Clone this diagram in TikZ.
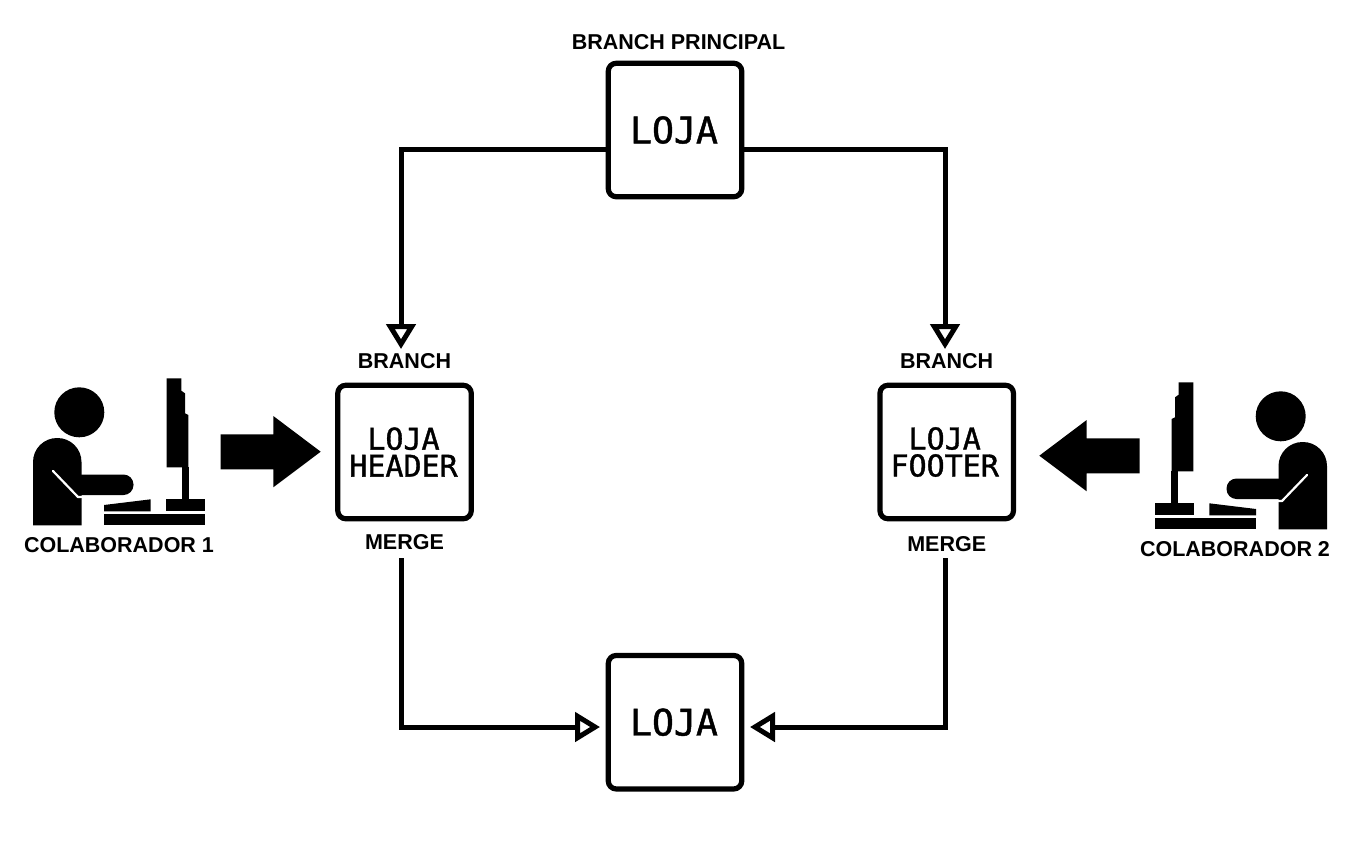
\documentclass[tikz,border=0pt]{standalone}
\usepackage{fontspec}
\setmainfont{Liberation Sans}
\newfontfamily\fontemono[FakeBold=1.2]{DejaVu Sans Mono}
\usetikzlibrary{arrows.meta,positioning}
\newcommand{\rotulofonte}{\bfseries\fontsize{21.5}{21.5}\selectfont}
\newcommand{\lojafonte}{\fontemono\fontsize{36.5}{36}\selectfont}
\newcommand{\ramofonte}{\fontemono\fontsize{30}{27}\selectfont}

\tikzset{
 colaborador/.pic={
  \fill (79.3,412.3) circle (25);
  \fill[rounded corners=24pt] (33,525.3) -- (33,438) -- (81.5,438) [sharp corners] -- (81.5,525.3) -- cycle;
  \fill[rounded corners=10pt] (70,474.5) rectangle (133.5,495);
  \draw[white,line width=2.2pt,line cap=round,line join=round] (53,471) -- (78,497) -- (81.5,497);
  \fill (104,505) -- (150.7,499.3) -- (150.7,511.3) -- (104,511.3) -- cycle;
  \fill (104,514) rectangle (205,525.3);
  \fill (166,499.3) rectangle (205,511.3);
  \fill (181.7,467) rectangle (189,499.5);
  \fill (166.7,378.3) -- (181.3,378.3) -- (181.3,390.7) -- (185,393.3) -- (185,413.3) -- (188.3,415) -- (188.3,467.3) -- (166.7,467.3) -- cycle;
  \fill (220.5,434.3) -- (273.3,434.3) -- (273.3,416) -- (320.7,451.7) -- (273.3,487.3) -- (273.3,469.3) -- (220.5,469.3) -- cycle;
 }
}

\begin{document}
\begin{tikzpicture}[
 x=1pt,y=-1pt,
 caixa/.style={draw,line width=5.2pt,rounded corners=8pt,minimum size=133.5pt,inner sep=0pt,align=center},
 rotulo/.style={font=\rotulofonte,inner sep=0pt,text height=16pt,text depth=0pt},
 conector/.style={line width=5pt,-{Triangle[open,length=25pt,width=29pt]}}
]
\useasboundingbox (0,0) rectangle (1356,841);
\node[caixa,font=\lojafonte] (lojaprincipal) at (675,130) {\hspace*{-2pt}LOJA};
\node[caixa,font=\lojafonte,below=453.5pt of lojaprincipal] (lojafinal) {\hspace*{-2pt}LOJA};
\node[caixa,font=\ramofonte] (lojaheader) at (404.5,452) {\hspace*{-2pt}LOJA\\\hspace*{-2pt}HEADER};
\node[caixa,font=\ramofonte,right=403.5pt of lojaheader] (lojafooter) {\hspace*{-4pt}LOJA\\\hspace*{-4pt}FOOTER};
\node[rotulo,above=11pt of lojaprincipal,xshift=3.5pt] (rotuloprincipal) {BRANCH PRINCIPAL};
\node[rotulo,above=14pt of lojaheader] (branchheader) {BRANCH};
\node[rotulo,above=14pt of lojafooter] (branchfooter) {BRANCH};
\node[rotulo,below=12pt of lojaheader] (mergeheader) {MERGE};
\node[rotulo,below=14pt of lojafooter] (mergefooter) {MERGE};
\pic at (0,0) {colaborador};
\pic[xscale=-1] at (1360,4) {colaborador};
\node[rotulo] (colaborador1) at (119,544) {COLABORADOR 1};
\node[rotulo] (colaborador2) at (1235,548) {COLABORADOR 2};
\coordinate (cantoesq) at (401,149);
\coordinate (cantodir) at (945,149);
\coordinate (pontaesq) at (401,349);
\coordinate (pontadir) at (945,349);
\coordinate (saidaesq) at (401,558);
\coordinate (saidadir) at (945,558);
\coordinate (curvaesq) at (401,727);
\coordinate (curvadir) at (945,727);
\coordinate (chegadaesq) at (600,727);
\coordinate (chegadadir) at (750,727);
\draw[conector] (lojaprincipal.west |- cantoesq) -- (cantoesq) -- (pontaesq);
\draw[conector] (lojaprincipal.east |- cantodir) -- (cantodir) -- (pontadir);
\draw[conector] (saidaesq) -- (curvaesq) -- (chegadaesq);
\draw[conector] (saidadir) -- (curvadir) -- (chegadadir);
\end{tikzpicture}
\end{document}
